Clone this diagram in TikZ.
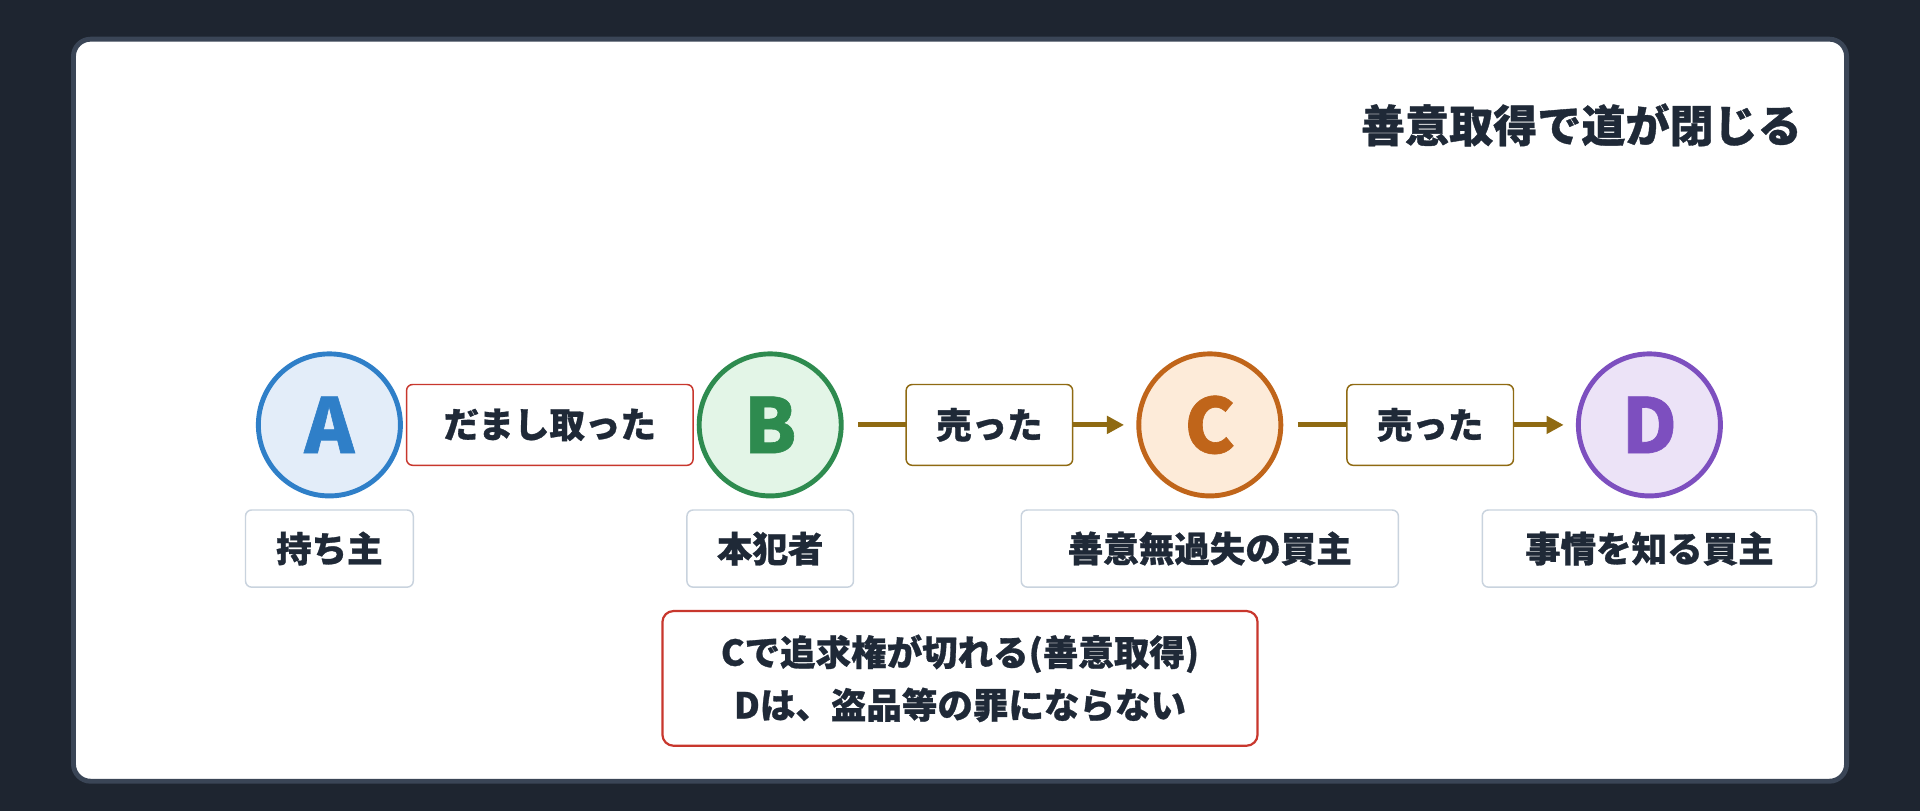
\documentclass[tikz,border=0pt]{standalone}
\usepackage{fontspec}
\setmainfont[FakeBold=0.8]{Noto Sans CJK JP}
\usetikzlibrary{arrows.meta}
\definecolor{bg}{HTML}{1E2530}
\definecolor{card}{HTML}{3A4556}
\definecolor{ink}{HTML}{1F2937}
\definecolor{red}{HTML}{C8372D}
\definecolor{gold}{HTML}{8F6A12}
\definecolor{gray}{HTML}{C9D3DE}
\definecolor{aS}{HTML}{2F7FC8}\definecolor{aF}{HTML}{E3EDF9}
\definecolor{bS}{HTML}{2E8B4F}\definecolor{bF}{HTML}{E3F5E7}
\definecolor{cS}{HTML}{C0651A}\definecolor{cF}{HTML}{FDEBD9}
\definecolor{dS}{HTML}{7D4FBF}\definecolor{dF}{HTML}{ECE3F7}
\begin{document}
\begin{tikzpicture}[x=1pt,y=-1pt,
  circ/.style={circle,minimum size=116,line width=4pt,font=\fontsize{62}{64}\bfseries\selectfont},
  lab/.style={draw,rounded corners=5,line width=1.2pt,fill=white,inner sep=0pt,text=ink,font=\fontsize{29}{34}\bfseries\selectfont,minimum height=66},
  sub/.style={lab,draw=gray},
  arr/.style={draw=gold,line width=4pt,-{Triangle[length=14,width=14]}}]
\useasboundingbox (0,0) rectangle (1568,662);
\fill[bg] (0,0) rectangle (1568,662);
\draw[card,line width=4pt,fill=white,rounded corners=14] (60,32) rectangle (1508,638);
\node[anchor=east,text=ink,font=\fontsize{36}{42}\bfseries\selectfont] (title) at (1475,102) {善意取得で道が閉じる};
\node[circ,draw=aS,fill=aF,text=aS] (A) at (269,347) {A};
\node[circ,draw=bS,fill=bF,text=bS] (B) at (629,347) {B};
\node[circ,draw=cS,fill=cF,text=cS] (C) at (988,347) {C};
\node[circ,draw=dS,fill=dF,text=dS] (D) at (1347,347) {D};
\draw[arr] ([xshift=12]B.east) -- ([xshift=-10]C.west);
\draw[arr] ([xshift=12]C.east) -- ([xshift=-10]D.west);
\node[lab,draw=red,minimum width=234] (l1) at (449,347) {だまし取った};
\node[lab,draw=gold,minimum width=136] (l2) at (808,347) {売った};
\node[lab,draw=gold,minimum width=136] (l3) at (1168,347) {売った};
\node[sub,minimum width=137,minimum height=63] (sA) at (269,448) {持ち主};
\node[sub,minimum width=136,minimum height=63] (sB) at (629,448) {本犯者};
\node[sub,minimum width=308,minimum height=63] (sC) at (988,448) {善意無過失の買主};
\node[sub,minimum width=273,minimum height=63] (sD) at (1347,448) {事情を知る買主};
\node[lab,draw=red,line width=1.8pt,rounded corners=9,minimum width=486,minimum height=110,align=center,font=\fontsize{29}{43}\bfseries\selectfont] (note) at (784,554) {Cで追求権が切れる(善意取得)\\Dは、盗品等の罪にならない};
\end{tikzpicture}
\end{document}
